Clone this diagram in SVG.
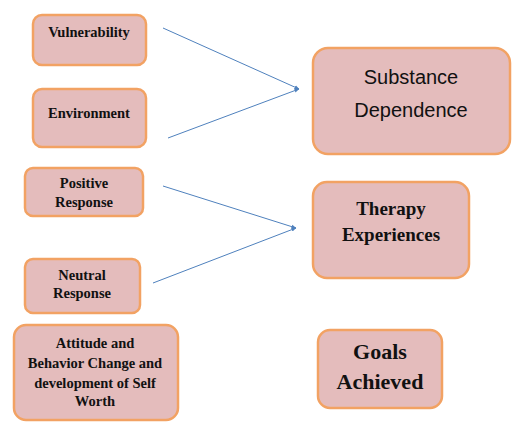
<svg xmlns="http://www.w3.org/2000/svg" width="529" height="429" viewBox="0 0 529 429">
<defs>
<marker id="ah" viewBox="0 0 10 10" refX="9" refY="5" markerWidth="5" markerHeight="5" orient="auto" markerUnits="userSpaceOnUse">
<path d="M0,1 L10,5 L0,9 z" fill="#4f81bd"/>
</marker>
<style>
.box{fill:#e4bcbc;stroke:#f2a263;stroke-width:2.5}
.s{font-family:'Liberation Serif','DejaVu Serif',serif;font-weight:bold;fill:#111;text-anchor:middle}
.sm{font-size:14.5px}
.ss{font-family:'Liberation Sans',Arial,sans-serif;fill:#111;text-anchor:middle;font-size:20px}
.c{stroke:#4f81bd;stroke-width:1;fill:none}
</style>
</defs>
<rect width="529" height="429" fill="#fff"/>
<g id="connectors">
<line class="c" x1="163" y1="28" x2="299" y2="89" marker-end="url(#ah)"/>
<line class="c" x1="168" y1="138" x2="299" y2="89" marker-end="url(#ah)"/>
<line class="c" x1="163" y1="186" x2="296" y2="228" marker-end="url(#ah)"/>
<line class="c" x1="153" y1="283" x2="296" y2="228" marker-end="url(#ah)"/>
</g>
<g id="vulnerability">
<rect class="box" x="33" y="15" width="113" height="50" rx="9"/>
<text class="s sm" x="89" y="37">Vulnerability</text>
</g>
<g id="environment">
<rect class="box" x="33" y="89" width="113" height="58" rx="9"/>
<text class="s sm" x="89" y="118">Environment</text>
</g>
<g id="positive">
<rect class="box" x="25" y="168" width="118" height="48" rx="8"/>
<text class="s sm" x="84" y="188">Positive</text>
<text class="s sm" x="84" y="207">Response</text>
</g>
<g id="neutral">
<rect class="box" x="25" y="259" width="115" height="54" rx="8"/>
<text class="s sm" x="82" y="280">Neutral</text>
<text class="s sm" x="82" y="298">Response</text>
</g>
<g id="attitude">
<rect class="box" x="14" y="325" width="164" height="95" rx="12"/>
<text class="s sm" x="95" y="348">Attitude and</text>
<text class="s sm" x="95" y="368">Behavior Change and</text>
<text class="s sm" x="95" y="388">development of Self</text>
<text class="s sm" x="95" y="406">Worth</text>
</g>
<g id="substance">
<rect class="box" x="313" y="48" width="197" height="106" rx="15"/>
<text class="ss" x="411" y="84">Substance</text>
<text class="ss" x="411" y="117">Dependence</text>
</g>
<g id="therapy">
<rect class="box" x="313" y="182" width="156" height="96" rx="14"/>
<text class="s" font-size="19" x="391" y="215">Therapy</text>
<text class="s" font-size="19" x="391" y="241">Experiences</text>
</g>
<g id="goals">
<rect class="box" x="318" y="330" width="124" height="78" rx="12"/>
<text class="s" font-size="22" x="380" y="359">Goals</text>
<text class="s" font-size="22" x="380" y="389">Achieved</text>
</g>
</svg>
